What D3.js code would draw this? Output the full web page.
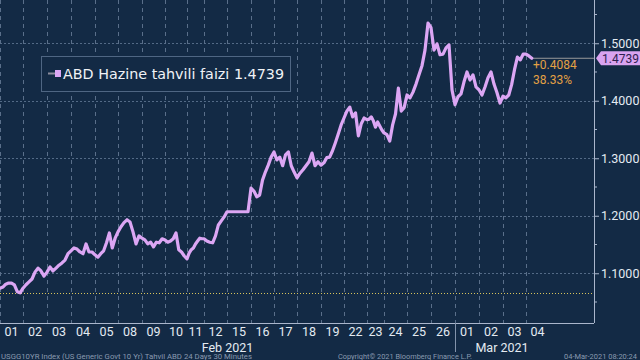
<!DOCTYPE html>
<html><head><meta charset="utf-8">
<script src="https://cdn.jsdelivr.net/npm/d3@7"></script>
<style>
html,body{margin:0;padding:0;background:#132a45;}
svg{display:block;}
</style></head><body>
<svg id="chart" width="640" height="360"></svg>
<script>
// ---------- data ----------
const dayLabels = ["01","02","03","04","05","08","09","10","11","12","15","16","17","18","19","22","23","24","25","26","01","02","03","04"];
const monthLabels = ["Feb 2021","Mar 2021"];
const monthFirstDay = [0, 20];
const barsPerDay = [46,48,48,48,46,48,46,44,34,46,48,46,46,48,46,46,34,46,48,48,48,48,46,46];
const samplesPerDay = 8;
const feb01 = [1.074,1.076,1.081,1.083,1.083,1.080,1.068,1.066];
const feb02 = [1.074,1.080,1.085,1.090,1.102,1.109,1.104,1.095];
const feb03 = [1.102,1.111,1.104,1.109,1.114,1.118,1.123,1.134];
const feb04 = [1.139,1.144,1.142,1.137,1.134,1.151,1.137,1.137];
const feb05 = [1.132,1.128,1.134,1.139,1.153,1.170,1.144,1.161];
const feb08 = [1.172,1.181,1.188,1.193,1.189,1.172,1.151,1.165];
const feb09 = [1.161,1.158,1.151,1.154,1.146,1.154,1.153,1.160];
const feb10 = [1.158,1.154,1.156,1.160,1.170,1.141,1.137,1.130];
const feb11 = [1.125,1.135,1.141,1.144,1.151,1.156,1.161,1.160];
const feb12 = [1.160,1.156,1.154,1.153,1.165,1.184,1.191,1.198];
const feb15 = [1.207,1.207,1.207,1.207,1.207,1.207,1.207,1.207];
const feb16 = [1.248,1.243,1.233,1.236,1.262,1.276,1.288,1.302];
const feb17 = [1.311,1.297,1.302,1.287,1.306,1.311,1.287,1.276];
const feb18 = [1.266,1.274,1.280,1.287,1.294,1.309,1.287,1.294];
const feb19 = [1.288,1.292,1.301,1.302,1.313,1.327,1.342,1.358];
const feb22 = [1.370,1.382,1.389,1.372,1.379,1.339,1.360,1.370];
const feb23 = [1.367,1.368,1.372,1.365,1.354,1.363,1.356,1.349];
const feb24 = [1.344,1.341,1.330,1.358,1.377,1.422,1.382,1.388];
const feb25 = [1.410,1.405,1.415,1.429,1.445,1.461,1.488,1.535];
const feb26 = [1.527,1.488,1.499,1.480,1.481,1.492,1.497,1.419];
const mar01 = [1.393,1.407,1.412,1.433,1.450,1.436,1.445,1.424];
const mar02 = [1.419,1.410,1.424,1.440,1.450,1.429,1.414,1.396];
const mar03 = [1.408,1.405,1.410,1.428,1.454,1.476,1.471,1.481];
const mar04 = [1.481,1.478,1.4739];
const yields = [feb01,feb02,feb03,feb04,feb05,feb08,feb09,feb10,feb11,feb12,feb15,feb16,feb17,feb18,feb19,feb22,feb23,feb24,feb25,feb26,mar01,mar02,mar03,mar04];
const yTicks = [1.1,1.2,1.3,1.4,1.5];
const yMinorTicks = [1.05,1.15,1.25,1.35,1.45,1.55];
const startValue = 1.0655;
const lastValue = 1.4739;
const changeText = "+0.4084";
const changePctText = "38.33%";
const seriesName = "ABD Hazine tahvili faizi";
const footerLeft = "USGG10YR Index (US Generic Govt 10 Yr) Tahvil ABD 24 Days 30 Minutes";
const footerMid = "Copyright\u00A9 2021 Bloomberg Finance L.P.";
const footerRight = "04-Mar-2021 08:20:24";

// ---------- layout ----------
const W = 640, H = 360;
const plotL = 0, plotR = 594, plotT = 0, plotB = 323;
const totalBars = d3.sum(barsPerDay);
const starts = Array.from(d3.cumsum([0, ...barsPerDay]));

const x = d3.scaleLinear().domain([0, totalBars + 90]).range([plotL, plotR]);
const y = d3.scaleLinear().domain([1.0135, 1.5752]).range([plotB, plotT]);

const svg = d3.select("#chart");
svg.append("rect").attr("width", W).attr("height", H).attr("fill", "#132a45");

const points = [];
yields.forEach((arr, d) => arr.forEach((v, i) => points.push({bar: starts[d] + i * barsPerDay[d] / samplesPerDay, v})));

// horizontal grid
svg.append("g").selectAll("line").data(yTicks).join("line")
  .attr("x1", plotL).attr("x2", plotR)
  .attr("y1", d => Math.round(y(d)) + 0.5).attr("y2", d => Math.round(y(d)) + 0.5)
  .attr("stroke", "#536a86").attr("stroke-width", 1).attr("stroke-dasharray", "2,2");

// vertical grid (day boundaries)
svg.append("g").selectAll("line").data(starts.slice(0, barsPerDay.length)).join("line")
  .attr("x1", d => Math.round(x(d)) + 0.5).attr("x2", d => Math.round(x(d)) + 0.5)
  .attr("y1", plotT).attr("y2", plotB)
  .attr("stroke", "#5a6f8a").attr("stroke-width", 1).attr("stroke-dasharray", "4,4");

// start-value dotted line
svg.append("line")
  .attr("x1", plotL).attr("x2", plotR)
  .attr("y1", Math.round(y(startValue)) + 0.5).attr("y2", Math.round(y(startValue)) + 0.5)
  .attr("stroke", "#d8c45c").attr("stroke-width", 1).attr("stroke-dasharray", "1,2");

// last price line
const lastPt = points[points.length - 1];
svg.append("line")
  .attr("x1", x(lastPt.bar)).attr("x2", plotR)
  .attr("y1", y(lastValue)).attr("y2", y(lastValue))
  .attr("stroke", "#9a9a9a").attr("stroke-width", 1);

// series line
const line = d3.line().x(d => x(d.bar)).y(d => y(d.v));
svg.append("path").datum(points)
  .attr("d", line).attr("fill", "none")
  .attr("stroke", "#dca6f4").attr("stroke-width", 3.2)
  .attr("stroke-linejoin", "round").attr("stroke-linecap", "round");

// axes lines
svg.append("line").attr("x1", plotL).attr("x2", plotR).attr("y1", plotB + 0.5).attr("y2", plotB + 0.5)
  .attr("stroke", "#aab6cc").attr("stroke-width", 1);
svg.append("line").attr("x1", plotR + 0.5).attr("x2", plotR + 0.5).attr("y1", plotT).attr("y2", plotB)
  .attr("stroke", "#aab6cc").attr("stroke-width", 1);

// month separator
monthFirstDay.slice(1).forEach(d => {
  svg.append("line").attr("x1", Math.round(x(starts[d])) + 0.5).attr("x2", Math.round(x(starts[d])) + 0.5)
    .attr("y1", plotB).attr("y2", 352).attr("stroke", "#8393ab").attr("stroke-width", 1);
});

// y axis (right) ticks and labels
const yAxis = d3.axisRight(y).tickValues(yTicks).tickFormat(d3.format(".4f")).tickSize(5).tickPadding(2);
const gy = svg.append("g").attr("transform", `translate(${plotR},0)`).call(yAxis);
gy.select(".domain").remove();
gy.selectAll(".tick line").attr("stroke", "#aab6cc");
gy.selectAll(".tick text").attr("fill", "#e4eaf2").attr("font-family", "Roboto").attr("font-size", "12.5px");
svg.append("g").selectAll("line").data(yMinorTicks).join("line")
  .attr("x1", plotR).attr("x2", plotR + 3)
  .attr("y1", d => y(d)).attr("y2", d => y(d)).attr("stroke", "#aab6cc");

// x labels
svg.append("g").selectAll("text").data(dayLabels).join("text")
  .attr("x", (d, i) => x(starts[i] + barsPerDay[i] / 2))
  .attr("y", 336).attr("text-anchor", "middle")
  .attr("fill", "#e4eaf2").attr("font-family", "Roboto").attr("font-size", "12.5px")
  .text(d => d);
svg.append("g").selectAll("text").data(monthLabels).join("text")
  .attr("x", (d, i) => {
    const a = starts[monthFirstDay[i]];
    const b = i + 1 < monthFirstDay.length ? starts[monthFirstDay[i + 1]] : totalBars;
    return x((a + b) / 2);
  })
  .attr("y", 351.5).attr("text-anchor", "middle")
  .attr("fill", "#e4eaf2").attr("font-family", "Roboto").attr("font-size", "12.5px")
  .text(d => d);

// last price label
const ly = y(lastValue);
svg.append("polygon")
  .attr("points", [[plotR + 2, ly], [plotR + 7, ly - 7], [640, ly - 7], [640, ly + 7], [plotR + 7, ly + 7]].map(p => p.join(",")).join(" "))
  .attr("fill", "#d9a3f0");
svg.append("text").attr("x", 602).attr("y", ly + 4.5)
  .attr("fill", "#2e2050").attr("font-family", "Roboto").attr("font-size", "12px")
  .text(d3.format(".4f")(lastValue));

// change annotation
svg.append("text").attr("x", 533).attr("y", 68.5).attr("fill", "#e3a144")
  .attr("font-family", "Roboto").attr("font-size", "12px").text(changeText);
svg.append("text").attr("x", 533).attr("y", 83.5).attr("fill", "#e3a144")
  .attr("font-family", "Roboto").attr("font-size", "12px").text(changePctText);

// legend
const lg = svg.append("g");
lg.append("rect").attr("x", 41.5).attr("y", 56.5).attr("width", 249).attr("height", 35)
  .attr("fill", "#132a45").attr("stroke", "#4f6683").attr("stroke-width", 1);
lg.append("line").attr("x1", 48).attr("x2", 55).attr("y1", 73.5).attr("y2", 73.5)
  .attr("stroke", "#8c8c9c").attr("stroke-width", 2);
lg.append("rect").attr("x", 55).attr("y", 70).attr("width", 6).attr("height", 7).attr("fill", "#dca6f4");
lg.append("text").attr("x", 63).attr("y", 79)
  .attr("fill", "#f0f2f6").attr("font-family", "DejaVu Sans").attr("font-size", "14.5px")
  .attr("textLength", 221).attr("lengthAdjust", "spacingAndGlyphs")
  .text(`${seriesName} ${d3.format(".4f")(lastValue)}`);

// footer
const foot = [[footerLeft, 1, 251], [footerMid, 338, 134], [footerRight, 564, 73]];
svg.append("g").selectAll("text").data(foot).join("text")
  .attr("x", d => d[1]).attr("y", 358.5)
  .attr("fill", "#8a9ab0").attr("font-family", "Roboto").attr("font-size", "7px")
  .attr("textLength", d => d[2]).attr("lengthAdjust", "spacingAndGlyphs")
  .text(d => d[0]);
</script>
</body></html>
